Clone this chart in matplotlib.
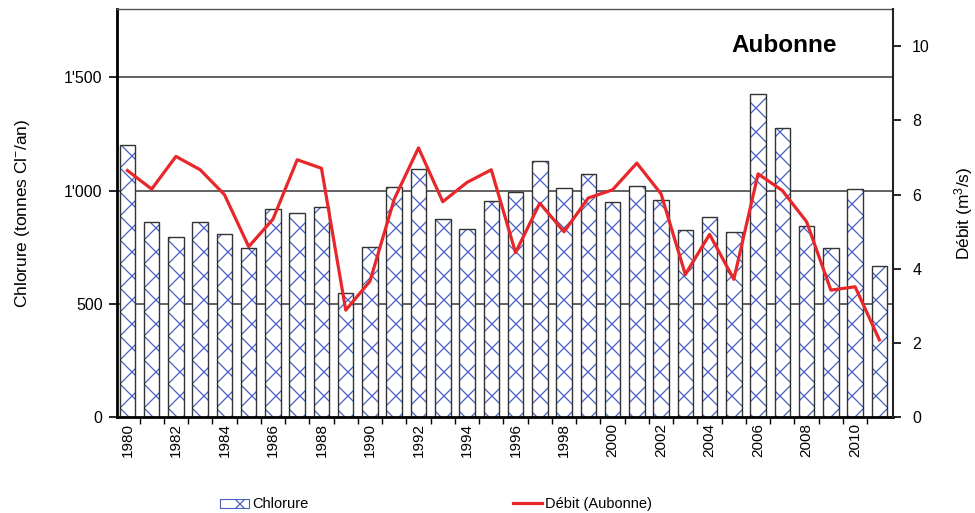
import matplotlib
matplotlib.use("Agg")
import matplotlib.pyplot as plt
import numpy as np
from matplotlib.ticker import FuncFormatter, MultipleLocator, FixedLocator
from matplotlib.patches import Patch

DPI = 72
K = 100 / DPI  # scale so that sizes look as at 100 dpi

plt.rcParams['font.family'] = ['Liberation Sans', 'DejaVu Sans']
plt.rcParams['mathtext.fontset'] = 'custom'
plt.rcParams['mathtext.rm'] = 'Liberation Sans'
plt.rcParams['mathtext.it'] = 'Liberation Sans:italic'
plt.rcParams['mathtext.bf'] = 'Liberation Sans:bold'
plt.rcParams['hatch.linewidth'] = 0.9 * K

years = list(range(1980, 2012))
chlorure = [1200, 863, 794, 863, 810, 748, 918, 902, 929, 548,
            752, 1014, 1093, 873, 832, 954, 992, 1130, 1010, 1073,
            948, 1021, 958, 827, 885, 816, 1425, 1277, 845, 748,
            1005, 669]
debit = [6.65, 6.15, 7.03, 6.67, 6.00, 4.60, 5.34, 6.94, 6.71, 2.89,
         3.67, 5.88, 7.26, 5.81, 6.33, 6.67, 4.44, 5.77, 5.00, 5.91,
         6.13, 6.85, 6.02, 3.85, 4.93, 3.72, 6.56, 6.11, 5.27, 3.43,
         3.52, 2.09]
title = "Aubonne"

HATCH_COLOR = '#4760c0'

fig = plt.figure(figsize=(975 / DPI, 513 / DPI), dpi=DPI)
ax = fig.add_axes([0.1195, 0.1862, 0.9156 - 0.1195, 0.9825 - 0.1862])
x = np.arange(len(years))

ax.set_axisbelow(True)
for yv in [500, 1000, 1500]:
    ax.axhline(yv, color='#555555', linewidth=1.3 * K, zorder=0)

# hatched fill (blue hatch), then dark outline
ax.bar(x, chlorure, width=0.64, color='white', edgecolor=HATCH_COLOR,
       linewidth=0, hatch='x', zorder=2)
ax.bar(x, chlorure, width=0.64, fill=False, edgecolor='#333333',
       linewidth=1.0 * K, zorder=2.5)
ax.set_xlim(-0.45, len(years) - 0.45)
ax.set_ylim(0, 1800)
ax.yaxis.set_major_locator(FixedLocator([0, 500, 1000, 1500]))
ax.yaxis.set_major_formatter(FuncFormatter(lambda v, p: f"{int(v):,}".replace(",", "'")))
ax.tick_params(axis='y', direction='out', length=6 * K, width=1.2 * K,
               labelsize=11.5 * K, pad=4 * K, colors='black')

ax.set_xticks(x[::2])
ax.set_xticklabels([str(y) for y in years[::2]], rotation=90, fontsize=11 * K)
ax.tick_params(axis='x', which='major', length=0, pad=4 * K)
ax.set_xticks(x[:-1] + 0.5, minor=True)
ax.tick_params(axis='x', which='minor', direction='out', length=5 * K, width=1.0 * K)

for s in ['left', 'bottom']:
    ax.spines[s].set_linewidth(2.0 * K)
    ax.spines[s].set_color('black')
ax.spines['top'].set_color('#555555')
ax.spines['top'].set_linewidth(1.0 * K)
ax.spines['right'].set_visible(False)

ax.set_ylabel("Chlorure (tonnes Cl$^{-}$/an)", fontsize=12.5 * K)
ax.yaxis.set_label_coords(-0.109, 0.5)

ax2 = ax.twinx()
line, = ax2.plot(x, debit, color='#e8272a', linewidth=2.3 * K, zorder=3)
ax2.set_ylim(0, 11)
ax2.yaxis.set_major_locator(MultipleLocator(2))
ax2.tick_params(axis='y', direction='out', length=6 * K, width=1.2 * K,
                labelsize=11.5 * K, pad=8 * K)
ax2.spines['right'].set_linewidth(1.5 * K)
ax2.spines['right'].set_color('#222222')
for s in ['left', 'bottom', 'top']:
    ax2.spines[s].set_visible(False)
ax2.set_ylabel("Débit (m$^{3}$/s)", fontsize=12.5 * K)
ax2.yaxis.set_label_coords(1.077, 0.5)

ax.text(0.86, 0.91, title, transform=ax.transAxes, fontsize=17.5 * K,
        fontweight='bold', ha='center', va='center')

hpatch = Patch(facecolor='white', edgecolor=HATCH_COLOR, hatch='x', linewidth=0.8 * K)
labels = ['Chlorure', 'Débit (Aubonne)']
fig.legend([hpatch, line], labels, loc='center', bbox_to_anchor=(0.447, 0.017), ncol=2,
           frameon=False, fontsize=10.5 * K, columnspacing=14.0, handlelength=2.0,
           handletextpad=0.2, handleheight=0.6)

fig.savefig("out.png", dpi=DPI)
